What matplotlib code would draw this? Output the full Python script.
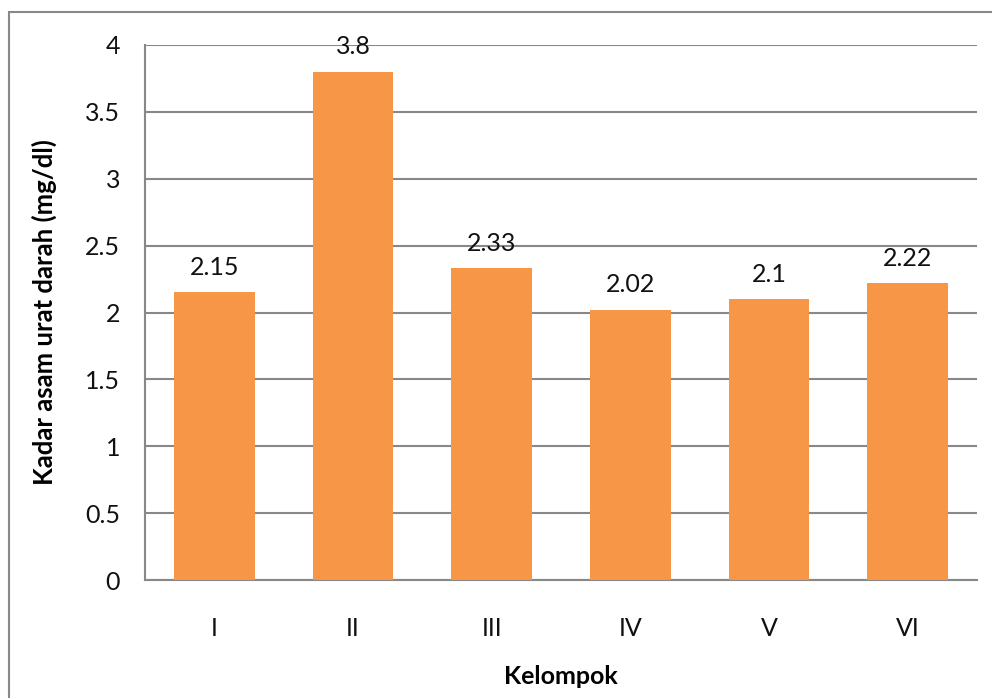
import matplotlib
matplotlib.use("Agg")
import matplotlib.pyplot as plt
from matplotlib.patches import Rectangle

# data kadar asam urat per kelompok
kelompok = ["I", "II", "III", "IV", "V", "VI"]
kadar = [2.15, 3.8, 2.33, 2.02, 2.1, 2.22]
y_ticks = [0, 0.5, 1, 1.5, 2, 2.5, 3, 3.5, 4]

plt.rcParams["font.family"] = ["Lato", "DejaVu Sans"]

fig = plt.figure(figsize=(9.92, 6.98), dpi=100)
ax = fig.add_axes([145 / 992, 1 - 580 / 698, (977 - 145) / 992, (580 - 45) / 698])

x = range(len(kelompok))
ax.bar(x, kadar, width=0.58, color="#F79646", zorder=3)

for i, v in enumerate(kadar):
    ax.annotate(f"{v:g}", (i, v), xytext=(0, 18), textcoords="offset points",
                ha="center", va="center", fontsize=18, color="#111111", zorder=4)

ax.set_xlim(-0.5, len(kelompok) - 0.5)
ax.set_ylim(0, 4)
ax.set_yticks(y_ticks)
ax.set_yticklabels([f"{t:g}" for t in y_ticks])
ax.set_xticks(list(x))
ax.set_xticklabels(kelompok)
ax.tick_params(axis="both", length=0, labelsize=18, colors="#111111")
ax.tick_params(axis="x", pad=27)
ax.tick_params(axis="y", pad=18)

ax.grid(axis="y", color="#888888", linewidth=1.5, zorder=0)
for side in ["top", "right"]:
    ax.spines[side].set_visible(False)
for side in ["left", "bottom"]:
    ax.spines[side].set_color("#888888")
    ax.spines[side].set_linewidth(1.5)

ax.set_xlabel("Kelompok", fontsize=18, fontweight="bold", labelpad=18)
ax.set_ylabel("Kadar asam urat darah (mg/dl)", fontsize=18.5, fontweight="bold", labelpad=20)

# bingkai luar chart
fig.patches.append(Rectangle((9 / 992, -0.1), 1.2, 1 - 12 / 698 + 0.1,
                             transform=fig.transFigure, fill=False,
                             edgecolor="#888888", linewidth=1.5))

fig.savefig("out.png", dpi=100)
